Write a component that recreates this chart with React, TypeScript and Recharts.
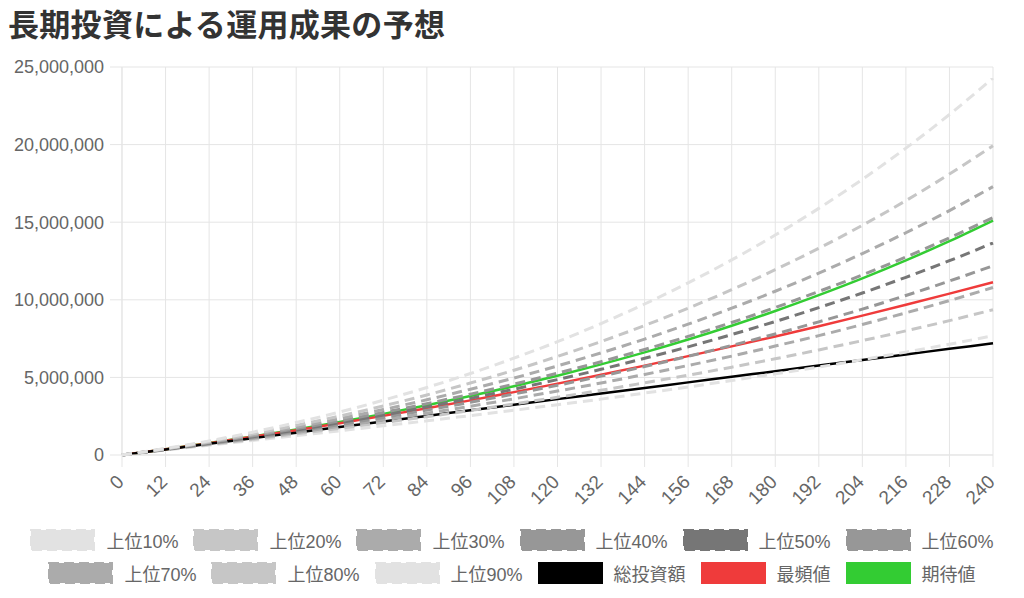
import { LineChart, Line, XAxis, YAxis, CartesianGrid } from 'recharts'

// months since start
const months = [0, 12, 24, 36, 48, 60, 72, 84, 96, 108, 120, 132, 144, 156, 168, 180, 192, 204, 216, 228, 240]

// yen
const top10 = [0, 420000, 910000, 1470000, 2090000, 2770000, 3530000, 4350000, 5250000, 6240000, 7300000, 8470000, 9730000, 11090000, 12570000, 14170000, 15890000, 17760000, 19770000, 21940000, 24290000]
const top20 = [0, 400000, 860000, 1360000, 1910000, 2510000, 3160000, 3870000, 4640000, 5460000, 6350000, 7310000, 8340000, 9460000, 10650000, 11940000, 13320000, 14800000, 16390000, 18100000, 19930000]
const top30 = [0, 390000, 820000, 1290000, 1790000, 2340000, 2930000, 3560000, 4240000, 4960000, 5740000, 6580000, 7470000, 8430000, 9460000, 10550000, 11720000, 12980000, 14320000, 15750000, 17290000]
const top40 = [0, 380000, 790000, 1230000, 1700000, 2200000, 2740000, 3310000, 3920000, 4570000, 5270000, 6010000, 6800000, 7640000, 8540000, 9500000, 10540000, 11600000, 12760000, 13990000, 15300000]
const top50 = [0, 370000, 760000, 1180000, 1610000, 2080000, 2570000, 3100000, 3650000, 4240000, 4860000, 5520000, 6230000, 6970000, 7760000, 8600000, 9500000, 10440000, 11450000, 12520000, 13660000]
const top60 = [0, 360000, 730000, 1120000, 1530000, 1960000, 2420000, 2890000, 3400000, 3930000, 4490000, 5080000, 5700000, 6360000, 7060000, 7800000, 8580000, 9400000, 10280000, 11210000, 12190000]
const top70 = [0, 350000, 710000, 1070000, 1450000, 1850000, 2260000, 2690000, 3140000, 3620000, 4120000, 4640000, 5190000, 5770000, 6370000, 7020000, 7690000, 8410000, 9160000, 9950000, 10790000]
const top80 = [0, 340000, 670000, 1010000, 1360000, 1720000, 2090000, 2470000, 2870000, 3290000, 3720000, 4170000, 4650000, 5140000, 5660000, 6200000, 6770000, 7370000, 8000000, 8660000, 9360000]
const top90 = [0, 320000, 630000, 940000, 1250000, 1560000, 1880000, 2200000, 2540000, 2880000, 3240000, 3600000, 3990000, 4380000, 4800000, 5230000, 5670000, 6140000, 6630000, 7140000, 7680000]
const totalInvested = [0, 360000, 720000, 1080000, 1440000, 1800000, 2160000, 2520000, 2880000, 3240000, 3600000, 3960000, 4320000, 4680000, 5040000, 5400000, 5760000, 6120000, 6480000, 6840000, 7200000]
const mode = [0, 370000, 760000, 1170000, 1600000, 2050000, 2520000, 3010000, 3520000, 4050000, 4600000, 5170000, 5760000, 6370000, 7000000, 7640000, 8300000, 8980000, 9680000, 10400000, 11130000]
const expected = [0, 370000, 770000, 1190000, 1650000, 2130000, 2650000, 3210000, 3800000, 4430000, 5110000, 5840000, 6610000, 7440000, 8330000, 9280000, 10300000, 11380000, 12540000, 13780000, 15110000]

const yTicks = [0, 5000000, 10000000, 15000000, 20000000, 25000000]

const series = [
  { key: 'top10', name: '上位10%', values: top10, color: '#e2e2e2', dashed: true },
  { key: 'top20', name: '上位20%', values: top20, color: '#c6c6c6', dashed: true },
  { key: 'top30', name: '上位30%', values: top30, color: '#ababab', dashed: true },
  { key: 'top40', name: '上位40%', values: top40, color: '#979797', dashed: true },
  { key: 'top50', name: '上位50%', values: top50, color: '#767676', dashed: true },
  { key: 'top60', name: '上位60%', values: top60, color: '#979797', dashed: true },
  { key: 'top70', name: '上位70%', values: top70, color: '#ababab', dashed: true },
  { key: 'top80', name: '上位80%', values: top80, color: '#c6c6c6', dashed: true },
  { key: 'top90', name: '上位90%', values: top90, color: '#e2e2e2', dashed: true },
  { key: 'total', name: '総投資額', values: totalInvested, color: '#000000', dashed: false },
  { key: 'mode', name: '最頻値', values: mode, color: '#ef3b3b', dashed: false },
  { key: 'expected', name: '期待値', values: expected, color: '#33cc33', dashed: false },
]

const data = months.map((m, i) => {
  const row: Record<string, number> = { month: m }
  series.forEach((s) => { row[s.key] = s.values[i] })
  return row
})

const FONT = "'Liberation Sans', Arial, 'Noto Sans CJK JP', sans-serif"

function MonthTick({ x, y, payload }: any) {
  const ax = x + 3
  const ay = y + 16
  return (
    <text x={ax} y={ay} transform={`rotate(-45 ${ax} ${ay})`} textAnchor="end" fill="#666" fontSize={19} fontFamily={FONT}>
      {payload.value}
    </text>
  )
}

function LegendItem({ name, color, dashed }: { name: string; color: string; dashed: boolean }) {
  return (
    <div style={{ display: 'flex', alignItems: 'center', marginRight: 15 }}>
      <svg width={65} height={22} style={{ marginRight: 11 }}>
        <rect x={1} y={1} width={63} height={20} fill={color} stroke={color} strokeWidth={2} strokeDasharray={dashed ? '10 5' : undefined} />
      </svg>
      <span style={{ fontSize: 18, color: '#666', fontFamily: FONT, whiteSpace: 'nowrap' }}>{name}</span>
    </div>
  )
}

export default function App() {
  const rows = [series.slice(0, 6), series.slice(6)]
  return (
    <div style={{ position: 'relative', width: 1024, height: 598, background: '#fff' }}>
      <style>{'body{margin:0}'}</style>
      <div style={{ position: 'absolute', left: 8, top: 4, fontSize: 31, lineHeight: '38px', fontWeight: 700, letterSpacing: 0.3, color: '#333', fontFamily: "'Noto Sans CJK JP', sans-serif" }}>
        長期投資による運用成果の予想
      </div>
      <div style={{ position: 'absolute', left: 0, top: 0 }}>
        <LineChart width={1024} height={520} data={data} margin={{ top: 67, right: 31, left: 0, bottom: 20 }}>
          <CartesianGrid stroke="#e5e5e5" strokeWidth={1} />
          <XAxis
            dataKey="month"
            type="number"
            domain={[0, 240]}
            ticks={months}
            interval={0}
            height={45}
            tickSize={12}
            tickMargin={0}
            stroke="#e5e5e5"
            tick={<MonthTick />}
          />
          <YAxis
            type="number"
            domain={[0, 25000000]}
            ticks={yTicks}
            width={122}
            tickSize={12}
            tickMargin={6}
            stroke="#e5e5e5"
            tick={{ fill: '#666', fontSize: 18, fontFamily: FONT }}
            tickFormatter={(v: number) => v.toLocaleString('en-US')}
          />
          {[...series].reverse().map((s) => (
            <Line
              key={s.key}
              type="monotone"
              dataKey={s.key}
              name={s.name}
              stroke={s.color}
              strokeWidth={s.dashed ? 3 : 2.5}
              strokeDasharray={s.dashed ? '10 6' : undefined}
              dot={false}
              isAnimationActive={false}
            />
          ))}
        </LineChart>
      </div>
      {rows.map((row, r) => (
        <div key={r} style={{ position: 'absolute', left: 0, width: 1039, top: 527 + r * 33, display: 'flex', justifyContent: 'center' }}>
          {row.map((s) => <LegendItem key={s.key} name={s.name} color={s.color} dashed={s.dashed} />)}
        </div>
      ))}
    </div>
  )
}
